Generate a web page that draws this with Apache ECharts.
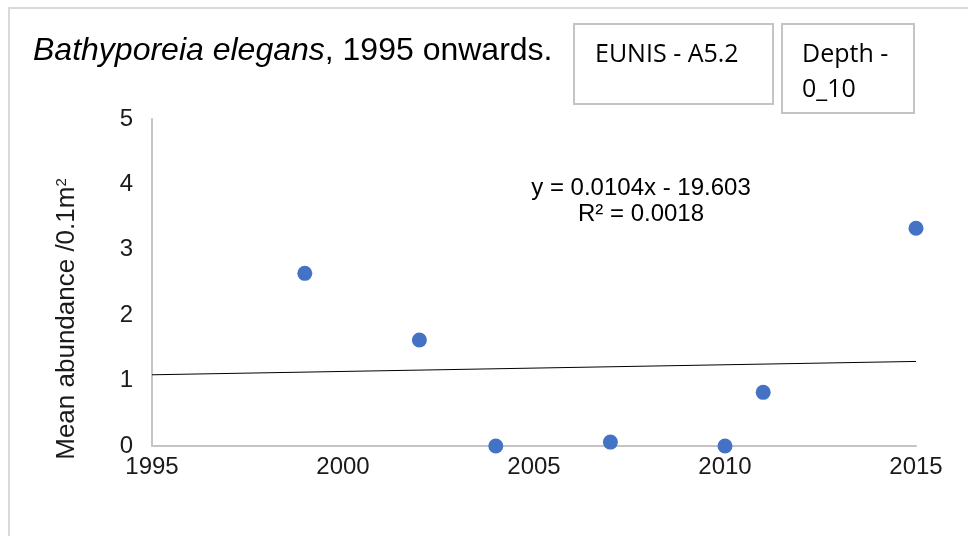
<!DOCTYPE html>
<html>
<head>
<meta charset="utf-8">
<script src="https://cdn.jsdelivr.net/npm/echarts@6/dist/echarts.min.js"></script>
<style>
  html, body { margin: 0; padding: 0; background: #fff; }
  #main { width: 968px; height: 536px; }
</style>
</head>
<body>
<div id="main"></div>
<script>
// sampling years and mean abundance
var years = [1999, 2002, 2004, 2007, 2010, 2011, 2015];
var abundance = [2.64, 1.62, 0, 0.06, 0, 0.82, 3.33];
var xTicks = [1995, 2000, 2005, 2010, 2015];
var yTicks = [0, 1, 2, 3, 4, 5];
var equation = 'y = 0.0104x - 19.603';
var rSquared = 'R² = 0.0018';

// linear trend (least squares) over the data
function linFit(xs, ys) {
    var n = xs.length, mx = 0, my = 0;
    for (var i = 0; i < n; i++) { mx += xs[i]; my += ys[i]; }
    mx /= n; my /= n;
    var sxy = 0, sxx = 0;
    for (var j = 0; j < n; j++) {
        sxy += (xs[j] - mx) * (ys[j] - my);
        sxx += (xs[j] - mx) * (xs[j] - mx);
    }
    var b = sxy / sxx;
    return { slope: b, intercept: my - b * mx };
}
var fit = linFit(years, abundance);
var xMin = xTicks[0], xMax = xTicks[xTicks.length - 1];
var trend = [
    [xMin, fit.intercept + fit.slope * xMin],
    [xMax, fit.intercept + fit.slope * xMax]
];

var myChart = echarts.init(document.getElementById('main'));
var font = '"Liberation Sans", Arial, sans-serif';
var boxFont = '"Open Sans", "Noto Sans", sans-serif';
var option = {
    animation: false,
    grid: { left: 152, right: 52, top: 119, bottom: 90 },
    xAxis: {
        type: 'value',
        min: xMin, max: xMax, interval: 5,
        axisLine: { lineStyle: { color: '#c4c4c4', width: 2 } },
        axisTick: { show: false },
        splitLine: { show: false },
        axisLabel: {
            color: '#1a1a1a', fontSize: 24, fontFamily: font, margin: 9,
            formatter: function (v) { return String(v); }
        }
    },
    yAxis: {
        type: 'value',
        min: yTicks[0], max: yTicks[yTicks.length - 1], interval: 1,
        axisLine: { show: true, lineStyle: { color: '#c4c4c4', width: 2 } },
        axisTick: { show: false },
        splitLine: { show: false },
        axisLabel: { color: '#1a1a1a', fontSize: 24, fontFamily: font, margin: 19 }
    },
    series: [
        {
            type: 'line',
            data: trend,
            symbol: 'none',
            lineStyle: { color: '#000', width: 1 },
            silent: true
        },
        {
            type: 'scatter',
            data: years.map(function (y, i) { return [y, abundance[i]]; }),
            symbolSize: 15,
            itemStyle: { color: '#4472C4', opacity: 1 }
        }
    ],
    graphic: [
        {
            type: 'rect',
            shape: { x: 9, y: 8, width: 1000, height: 600 },
            style: { fill: 'none', stroke: '#d9d9d9', lineWidth: 2 },
            silent: true
        },
        {
            type: 'text', x: 33, y: 51,
            style: {
                text: '{i|Bathyporeia elegans}{r|, 1995 onwards.}',
                verticalAlign: 'middle',
                rich: {
                    i: { fontSize: 32, fontStyle: 'italic', fontFamily: font, fill: '#000' },
                    r: { fontSize: 32, fontFamily: font, fill: '#000' }
                }
            }
        },
        {
            // y axis title, rotated
            type: 'text', x: 67, y: 319, rotation: Math.PI / 2,
            style: {
                text: '{n|Mean abundance /0.1m}{s|2}',
                align: 'center', verticalAlign: 'middle',
                rich: {
                    n: { fontSize: 26, fontFamily: font, fill: '#1a1a1a' },
                    s: { fontSize: 15, fontFamily: font, fill: '#1a1a1a', verticalAlign: 'top', padding: [0, 0, 10, 0] }
                }
            }
        },
        {
            type: 'rect',
            shape: { x: 574, y: 24, width: 199, height: 80 },
            style: { fill: '#fff', stroke: '#c4c4c4', lineWidth: 2 }
        },
        {
            type: 'text', x: 595, y: 55,
            style: { text: 'EUNIS - A5.2', verticalAlign: 'middle', font: '25px ' + boxFont, fill: '#000' }
        },
        {
            type: 'rect',
            shape: { x: 782, y: 24, width: 132, height: 89 },
            style: { fill: '#fff', stroke: '#c4c4c4', lineWidth: 2 }
        },
        {
            type: 'text', x: 802, y: 55,
            style: { text: 'Depth -', verticalAlign: 'middle', font: '25px ' + boxFont, fill: '#000' }
        },
        {
            type: 'text', x: 802, y: 90,
            style: { text: '0_10', verticalAlign: 'middle', font: '25px ' + boxFont, fill: '#000' }
        },
        {
            type: 'text', x: 641, y: 188,
            style: { text: equation, align: 'center', verticalAlign: 'middle', font: '24px ' + font, fill: '#000' }
        },
        {
            type: 'text', x: 641, y: 214,
            style: { text: rSquared, align: 'center', verticalAlign: 'middle', font: '24px ' + font, fill: '#000' }
        }
    ]
};
myChart.setOption(option);
window.onresize = myChart.resize;
</script>
</body>
</html>
